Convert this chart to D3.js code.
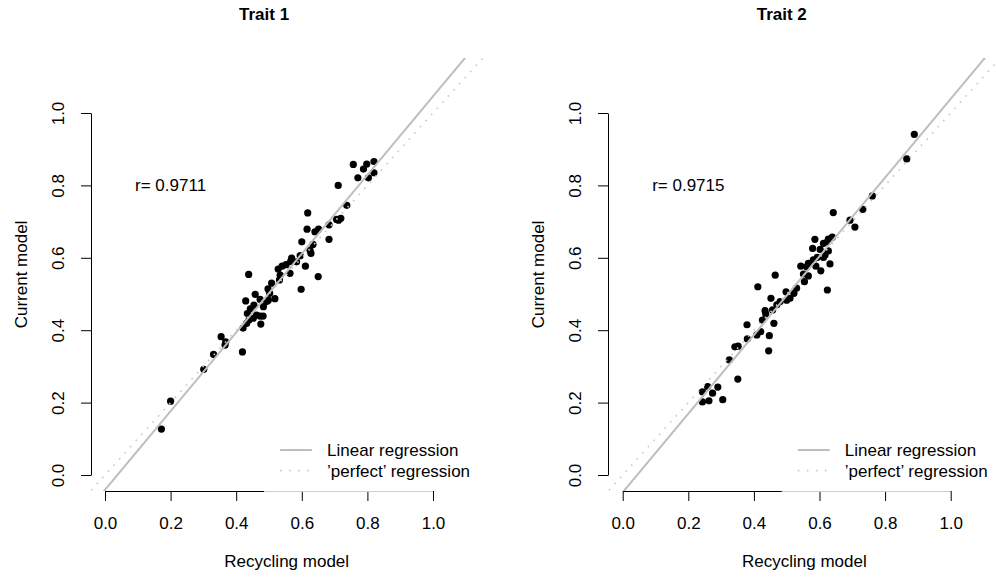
<!DOCTYPE html>
<html><head><meta charset="utf-8">
<script src="https://cdn.jsdelivr.net/npm/d3@7"></script>
<style>
body{margin:0;background:#fff}
svg{display:block}
text{font-family:"Liberation Sans",Arial,Helvetica,sans-serif;fill:#000}
</style>
</head><body>
<svg id="c" width="996" height="581"></svg>
<script>
// ---------- data ----------
const panelTitles = ["Trait 1", "Trait 2"];
const rLabels = ["r= 0.9711", "r= 0.9715"];
const xAxisTitle = "Recycling model";
const yAxisTitle = "Current model";
const tickValues = [0, 0.2, 0.4, 0.6, 0.8, 1.0];
const legendLabels = ["Linear regression", "\u2019perfect\u2019 regression"];

const trait1Recycling = [0.757,0.798,0.820,0.788,0.771,0.803,0.820,0.711,0.737,0.706,
  0.719,0.618,0.616,0.640,0.651,0.683,0.683,0.600,0.634,0.625,
  0.628,0.595,0.584,0.611,0.566,0.552,0.540,0.528,0.564,0.650,
  0.598,0.438,0.534,0.532,0.508,0.497,0.502,0.518,0.458,0.429,
  0.473,0.493,0.483,0.454,0.443,0.434,0.473,0.482,0.439,0.432,
  0.475,0.421,0.354,0.368,0.366,0.419,0.331,0.301,0.200,0.172,
  0.569,0.712,0.452,0.462,0.498];
const trait1Current = [0.858,0.859,0.866,0.845,0.821,0.821,0.835,0.800,0.745,0.706,
  0.709,0.724,0.679,0.672,0.679,0.691,0.651,0.644,0.637,0.621,
  0.612,0.606,0.589,0.577,0.590,0.581,0.577,0.569,0.557,0.548,
  0.513,0.554,0.552,0.539,0.530,0.514,0.502,0.487,0.499,0.481,
  0.485,0.479,0.465,0.469,0.459,0.446,0.439,0.439,0.428,0.419,
  0.417,0.406,0.382,0.368,0.359,0.340,0.333,0.292,0.204,0.127,
  0.599,0.704,0.433,0.442,0.483];

const trait2Recycling = [0.889,0.866,0.761,0.732,0.693,0.708,0.642,0.639,0.624,0.586,
  0.579,0.602,0.627,0.612,0.617,0.593,0.581,0.632,0.566,0.561,
  0.543,0.589,0.604,0.551,0.566,0.554,0.624,0.530,0.522,0.510,
  0.500,0.498,0.465,0.412,0.480,0.470,0.457,0.452,0.434,0.436,
  0.426,0.461,0.379,0.421,0.409,0.447,0.380,0.445,0.352,0.342,
  0.325,0.351,0.243,0.259,0.290,0.274,0.243,0.263,0.305,0.612,
  0.627];
const trait2Current = [0.941,0.873,0.771,0.734,0.704,0.685,0.725,0.657,0.644,0.651,
  0.626,0.623,0.619,0.601,0.608,0.601,0.594,0.583,0.585,0.575,
  0.577,0.577,0.564,0.555,0.550,0.534,0.511,0.516,0.502,0.488,
  0.483,0.506,0.552,0.520,0.479,0.470,0.456,0.488,0.454,0.445,
  0.428,0.419,0.415,0.396,0.387,0.385,0.376,0.343,0.356,0.354,
  0.318,0.265,0.230,0.244,0.243,0.226,0.202,0.205,0.208,0.640,
  0.652];

const regSlopes = [1.087, 1.087];
const regIntercepts = [-0.041, -0.048];

// ---------- layout ----------
const svg = d3.select("#c");
const panelOrigins = [105, 622.7];   // pixel of x = 0 in each panel
const unitX = 328, unitY = 362, yZero = 475;
const lo = -0.044, hi = 1.152;
const lineGrey = "#bebebe";
const fs = 17;

const panels = [
  {xs: trait1Recycling, ys: trait1Current},
  {xs: trait2Recycling, ys: trait2Current}
];

panels.forEach((p, i) => {
  const x = d3.scaleLinear().domain([0, 1]).range([panelOrigins[i], panelOrigins[i] + unitX]);
  const y = d3.scaleLinear().domain([0, 1]).range([yZero, yZero - unitY]);
  const g = svg.append("g");
  const left = x(lo), bottom = y(lo), top = y(hi), right = x(hi);

  const clipId = "clip" + i;
  svg.append("clipPath").attr("id", clipId).append("rect")
    .attr("x", left).attr("y", top).attr("width", right - left).attr("height", bottom - top);

  // axes
  const ax = g.append("g").attr("transform", `translate(0,${Math.round(bottom)})`)
    .call(d3.axisBottom(x).tickValues(tickValues).tickFormat(d3.format(".1f"))
      .tickSize(10).tickSizeOuter(0).tickPadding(16));
  ax.selectAll("text").style("font-size", fs + "px").style("font-family", '"Liberation Sans",Arial,sans-serif');
  ax.select(".domain").attr("stroke", "#000");

  const ay = g.append("g").attr("transform", `translate(${Math.round(left)},0)`)
    .call(d3.axisLeft(y).tickValues(tickValues).tickFormat(d3.format(".1f"))
      .tickSize(10).tickSizeOuter(0));
  ay.selectAll("text")
    .attr("x", null).attr("dy", null)
    .attr("text-anchor", "middle")
    .attr("transform", `translate(-27,0) rotate(-90)`)
    .style("font-size", fs + "px").style("font-family", '"Liberation Sans",Arial,sans-serif');

  // points
  const pts = p.xs.map((v, k) => [v, p.ys[k]]);
  g.append("g").selectAll("circle").data(pts).join("circle")
    .attr("cx", d => x(d[0])).attr("cy", d => y(d[1])).attr("r", 3.6).attr("fill", "#000");

  // regression lines
  const lg = g.append("g").attr("clip-path", `url(#${clipId})`);
  const xsLine = [lo - 0.1, hi + 0.1];
  lg.append("line")
    .attr("x1", x(xsLine[0])).attr("y1", y(regSlopes[i] * xsLine[0] + regIntercepts[i]))
    .attr("x2", x(xsLine[1])).attr("y2", y(regSlopes[i] * xsLine[1] + regIntercepts[i]))
    .attr("stroke", lineGrey).attr("stroke-width", 2);
  lg.append("line")
    .attr("x1", x(xsLine[0])).attr("y1", y(xsLine[0]))
    .attr("x2", x(xsLine[1])).attr("y2", y(xsLine[1]))
    .attr("stroke", "#c8c8c8").attr("stroke-width", 1.6)
    .attr("stroke-dasharray", "1.6 6.7").attr("stroke-linecap", "butt");

  // r label
  g.append("text").attr("x", x(0.2)).attr("y", y(0.8)).attr("dy", "0.35em")
    .attr("text-anchor", "middle").style("font-size", fs + "px").text(rLabels[i]);

  // legend (white background covering part of the axis line)
  const legLeft = x(0.485);
  g.append("rect").attr("x", legLeft).attr("y", y(0.12)).attr("width", right - legLeft)
    .attr("height", bottom - y(0.12)).attr("fill", "#fff");
  g.append("line").attr("x1", legLeft).attr("x2", x(1))
    .attr("y1", Math.round(bottom) + 0.5).attr("y2", Math.round(bottom) + 0.5)
    .attr("stroke", "#cfcfcf").attr("stroke-width", 1);
  const rowsY = [y(0.069), y(0.012)];
  g.append("line").attr("x1", x(0.534)).attr("x2", x(0.631)).attr("y1", rowsY[0]).attr("y2", rowsY[0])
    .attr("stroke", lineGrey).attr("stroke-width", 2);
  g.append("line").attr("x1", x(0.534)).attr("x2", x(0.631)).attr("y1", rowsY[1]).attr("y2", rowsY[1])
    .attr("stroke", "#c8c8c8").attr("stroke-width", 1.6).attr("stroke-dasharray", "1.6 7.4");
  legendLabels.forEach((t, k) => {
    g.append("text").attr("x", x(0.677)).attr("y", rowsY[k]).attr("dy", "0.35em")
      .style("font-size", fs + "px").text(t);
  });

  // titles
  g.append("text").attr("x", x(0.485)).attr("y", 20).attr("text-anchor", "middle")
    .style("font-size", "17px").style("font-weight", "bold").text(panelTitles[i]);
  g.append("text").attr("x", (left + right) / 2).attr("y", 567).attr("text-anchor", "middle")
    .style("font-size", fs + "px").text(xAxisTitle);
  g.append("text").attr("transform", `translate(${left - 64},${(top + bottom) / 2}) rotate(-90)`)
    .attr("text-anchor", "middle").style("font-size", fs + "px").text(yAxisTitle);
});
</script>
</body></html>
